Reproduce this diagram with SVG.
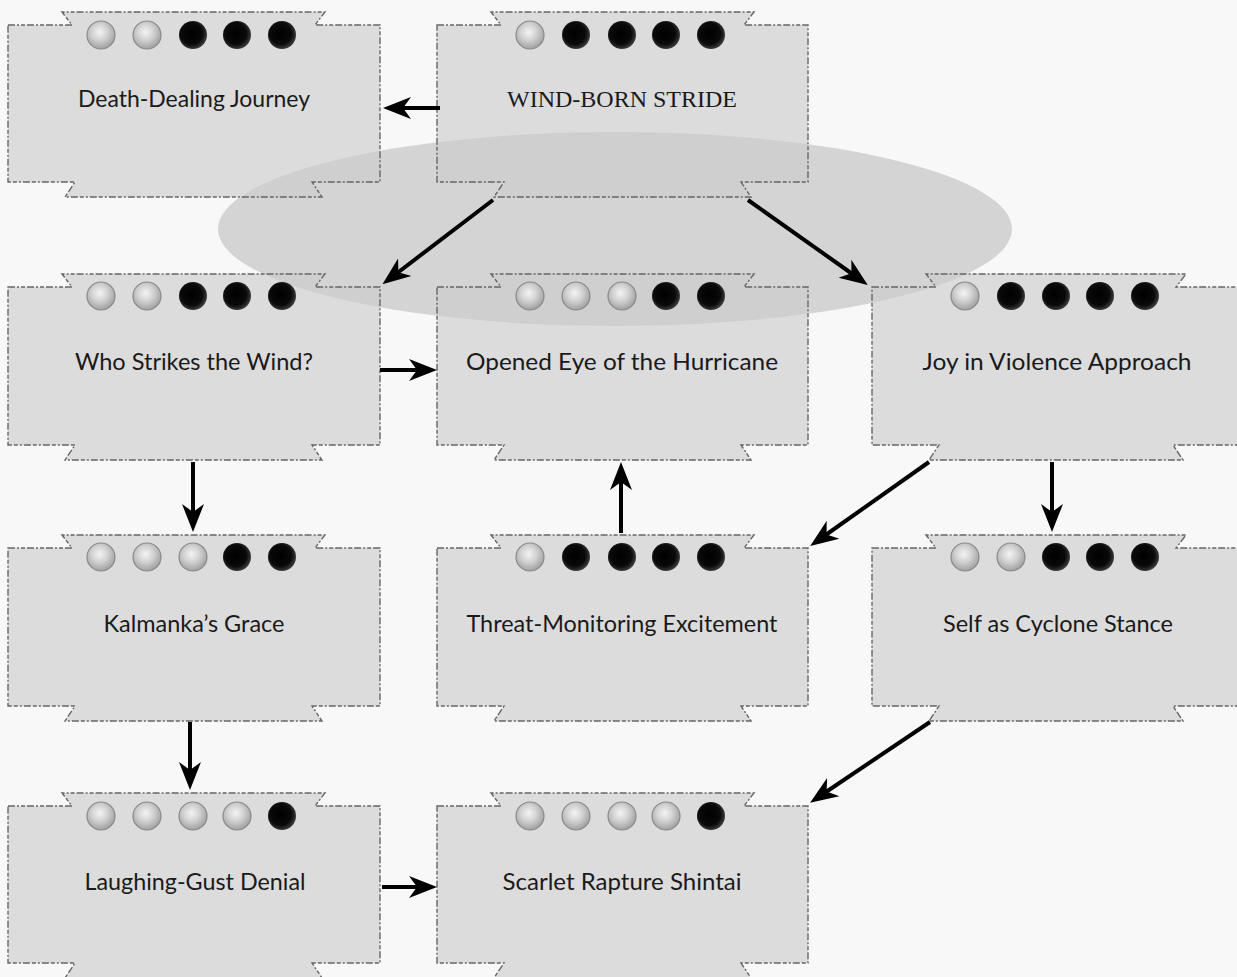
<svg xmlns="http://www.w3.org/2000/svg" xmlns:xlink="http://www.w3.org/1999/xlink" width="1237" height="977" viewBox="0 0 1237 977">
<style>
.bg{fill:#f8f8f8}
.halo{fill:#d4d4d4}
.box{fill:#cbcbcb;fill-opacity:0.62;stroke:#666;stroke-width:1.4;stroke-dasharray:7 2 2 2 4 2}
.lbl{font-family:Lato,"Noto Sans",sans-serif;font-size:23px;fill:#1a1a1a;text-anchor:middle}
.cap{font-family:"Liberation Serif",serif;font-size:24px;fill:#1a1a1a;text-anchor:middle}
.s{fill:url(#silver);stroke:#8a8a8a;stroke-width:1.2}
.b{fill:url(#black)}
.edge{stroke:#000;stroke-width:4;fill:none;marker-end:url(#arr)}
</style>
<defs>
<radialGradient id="silver" cx="0.45" cy="0.4" r="0.6">
<stop offset="0" stop-color="#f4f4f4"/>
<stop offset="0.5" stop-color="#d0d0d0"/>
<stop offset="1" stop-color="#a0a0a0"/>
</radialGradient>
<radialGradient id="black" cx="0.45" cy="0.45" r="0.55">
<stop offset="0" stop-color="#000"/>
<stop offset="0.7" stop-color="#0a0a0a"/>
<stop offset="1" stop-color="#3a3a3a"/>
</radialGradient>
<marker id="arr" markerUnits="userSpaceOnUse" viewBox="0 0 28 24" refX="16" refY="12" markerWidth="28" markerHeight="24" orient="auto">
<path d="M0,1 L28,12 L0,23 L8,12 Z" fill="#000"/>
</marker>
</defs>
<rect class="bg" x="0" y="0" width="1237" height="977"/>
<ellipse class="halo" cx="615" cy="229" rx="397" ry="97"/>

<g id="n1">
<path class="box" d="M8,25 H72 L62,12 H325 L315,25 H380 V182 H312 L322,197 H65 L75,182 H8 Z"/>
<circle class="s" cx="101" cy="35" r="14"/><circle class="s" cx="147" cy="35" r="14"/><circle class="b" cx="193" cy="35" r="14"/><circle class="b" cx="237" cy="35" r="14"/><circle class="b" cx="282" cy="35" r="14"/>
<text class="lbl" x="194" y="107" textLength="232" lengthAdjust="spacingAndGlyphs">Death-Dealing Journey</text>
</g>
<g id="n2">
<path class="box" d="M437,25 H501 L491,12 H754 L744,25 H808 V182 H741 L751,197 H494 L504,182 H437 Z"/>
<circle class="s" cx="530" cy="35" r="14"/><circle class="b" cx="576" cy="35" r="14"/><circle class="b" cx="622" cy="35" r="14"/><circle class="b" cx="666" cy="35" r="14"/><circle class="b" cx="711" cy="35" r="14"/>
<text class="cap" x="622" y="107" textLength="230" lengthAdjust="spacingAndGlyphs">WIND-BORN STRIDE</text>
</g>
<g id="n3">
<path class="box" d="M8,287 H72 L62,274 H325 L315,287 H380 V445 H312 L322,460 H65 L75,445 H8 Z"/>
<circle class="s" cx="101" cy="296" r="14"/><circle class="s" cx="147" cy="296" r="14"/><circle class="b" cx="193" cy="296" r="14"/><circle class="b" cx="237" cy="296" r="14"/><circle class="b" cx="282" cy="296" r="14"/>
<text class="lbl" x="194" y="370" textLength="238" lengthAdjust="spacingAndGlyphs">Who Strikes the Wind?</text>
</g>
<g id="n4">
<path class="box" d="M437,287 H501 L491,274 H754 L744,287 H808 V445 H741 L751,460 H494 L504,445 H437 Z"/>
<circle class="s" cx="530" cy="296" r="14"/><circle class="s" cx="576" cy="296" r="14"/><circle class="s" cx="622" cy="296" r="14"/><circle class="b" cx="666" cy="296" r="14"/><circle class="b" cx="711" cy="296" r="14"/>
<text class="lbl" x="622" y="370" textLength="312" lengthAdjust="spacingAndGlyphs">Opened Eye of the Hurricane</text>
</g>
<g id="n5">
<path class="box" d="M872,287 H936 L926,274 H1186 L1176,287 H1246 V445 H1173 L1183,460 H929 L939,445 H872 Z"/>
<circle class="s" cx="965" cy="296" r="14"/><circle class="b" cx="1011" cy="296" r="14"/><circle class="b" cx="1056" cy="296" r="14"/><circle class="b" cx="1100" cy="296" r="14"/><circle class="b" cx="1145" cy="296" r="14"/>
<text class="lbl" x="1057" y="370" textLength="269" lengthAdjust="spacingAndGlyphs">Joy in Violence Approach</text>
</g>
<g id="n6">
<path class="box" d="M8,548 H72 L62,535 H325 L315,548 H380 V706 H312 L322,721 H65 L75,706 H8 Z"/>
<circle class="s" cx="101" cy="557" r="14"/><circle class="s" cx="147" cy="557" r="14"/><circle class="s" cx="193" cy="557" r="14"/><circle class="b" cx="237" cy="557" r="14"/><circle class="b" cx="282" cy="557" r="14"/>
<text class="lbl" x="194" y="632" textLength="181" lengthAdjust="spacingAndGlyphs">Kalmanka’s Grace</text>
</g>
<g id="n7">
<path class="box" d="M437,548 H501 L491,535 H754 L744,548 H808 V706 H741 L751,721 H494 L504,706 H437 Z"/>
<circle class="s" cx="530" cy="557" r="14"/><circle class="b" cx="576" cy="557" r="14"/><circle class="b" cx="622" cy="557" r="14"/><circle class="b" cx="666" cy="557" r="14"/><circle class="b" cx="711" cy="557" r="14"/>
<text class="lbl" x="622" y="632" textLength="311" lengthAdjust="spacingAndGlyphs">Threat-Monitoring Excitement</text>
</g>
<g id="n8">
<path class="box" d="M872,548 H936 L926,535 H1186 L1176,548 H1246 V706 H1173 L1183,721 H929 L939,706 H872 Z"/>
<circle class="s" cx="965" cy="557" r="14"/><circle class="s" cx="1011" cy="557" r="14"/><circle class="b" cx="1056" cy="557" r="14"/><circle class="b" cx="1100" cy="557" r="14"/><circle class="b" cx="1145" cy="557" r="14"/>
<text class="lbl" x="1058" y="632" textLength="230" lengthAdjust="spacingAndGlyphs">Self as Cyclone Stance</text>
</g>
<g id="n9">
<path class="box" d="M8,806 H72 L62,793 H325 L315,806 H380 V963 H312 L322,978 H65 L75,963 H8 Z"/>
<circle class="s" cx="101" cy="816" r="14"/><circle class="s" cx="147" cy="816" r="14"/><circle class="s" cx="193" cy="816" r="14"/><circle class="s" cx="237" cy="816" r="14"/><circle class="b" cx="282" cy="816" r="14"/>
<text class="lbl" x="195" y="890" textLength="221" lengthAdjust="spacingAndGlyphs">Laughing-Gust Denial</text>
</g>
<g id="n10">
<path class="box" d="M437,806 H501 L491,793 H754 L744,806 H808 V963 H741 L751,978 H494 L504,963 H437 Z"/>
<circle class="s" cx="530" cy="816" r="14"/><circle class="s" cx="576" cy="816" r="14"/><circle class="s" cx="622" cy="816" r="14"/><circle class="s" cx="666" cy="816" r="14"/><circle class="b" cx="711" cy="816" r="14"/>
<text class="lbl" x="622" y="890" textLength="239" lengthAdjust="spacingAndGlyphs">Scarlet Rapture Shintai</text>
</g>

<g id="connectors">
<line class="edge" x1="440" y1="108" x2="395" y2="108"/>
<line class="edge" x1="493" y1="200" x2="392" y2="277"/>
<line class="edge" x1="748" y1="200" x2="858" y2="278"/>
<line class="edge" x1="380" y1="370" x2="425" y2="370"/>
<line class="edge" x1="193" y1="462" x2="193" y2="520"/>
<line class="edge" x1="621" y1="533" x2="621" y2="474"/>
<line class="edge" x1="929" y1="462" x2="820" y2="539"/>
<line class="edge" x1="1052" y1="462" x2="1052" y2="520"/>
<line class="edge" x1="190" y1="722" x2="190" y2="778"/>
<line class="edge" x1="930" y1="722" x2="820" y2="796"/>
<line class="edge" x1="382" y1="887" x2="425" y2="887"/>
</g>
</svg>
